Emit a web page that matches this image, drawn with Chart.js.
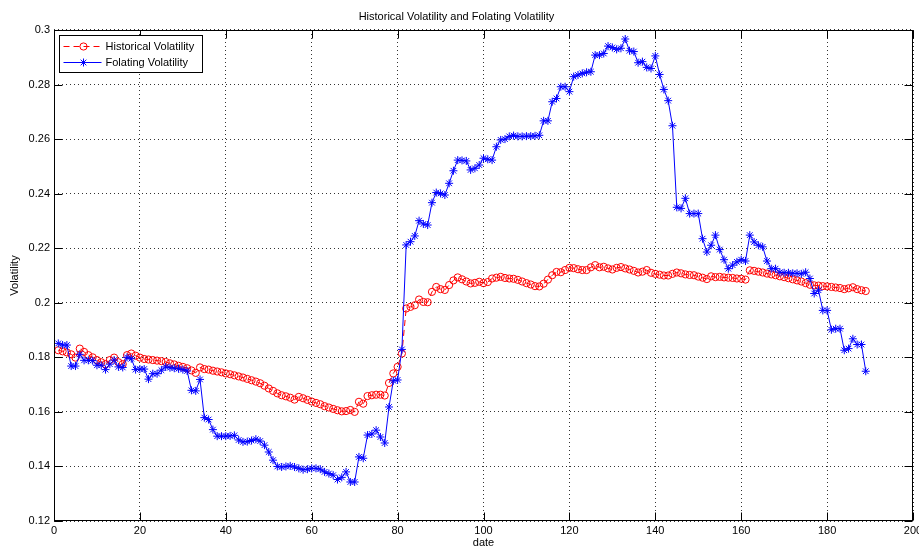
<!DOCTYPE html>
<html>
<head>
<meta charset="utf-8">
<title>Historical Volatility and Folating Volatility</title>
<script src="https://cdn.jsdelivr.net/npm/chart.js@4"></script>
<style>
  html, body { margin: 0; padding: 0; background: #fff; }
  canvas { display: block; }
</style>
</head>
<body>
<canvas id="chart" width="919" height="550"></canvas>
<script>
// values, one per trading day (1..189)
const historical = [
  0.1826, 0.1822, 0.1818, 0.1811, 0.1799, 0.1832, 0.1820, 0.1808, 0.1800, 0.1790,
  0.1782, 0.1775, 0.1790, 0.1799, 0.1782, 0.1775, 0.1808, 0.1814, 0.1806, 0.1799,
  0.1794, 0.1792, 0.1790, 0.1788, 0.1786, 0.1783, 0.1778, 0.1774, 0.1769, 0.1765,
  0.1760, 0.1752, 0.1743, 0.1763, 0.1757, 0.1755, 0.1751, 0.1748, 0.1745, 0.1741,
  0.1738, 0.1734, 0.1730, 0.1726, 0.1721, 0.1716, 0.1711, 0.1705, 0.1696, 0.1686,
  0.1677, 0.1668, 0.1661, 0.1657, 0.1652, 0.1645, 0.1655, 0.1650, 0.1644, 0.1638,
  0.1633, 0.1628, 0.1621, 0.1616, 0.1611, 0.1606, 0.1602, 0.1603, 0.1607, 0.1600,
  0.1637, 0.1630, 0.1658, 0.1661, 0.1663, 0.1663, 0.1660, 0.1706, 0.1741, 0.1765,
  0.1814, 0.1979, 0.1985, 0.1991, 0.2012, 0.2003, 0.2002, 0.2040, 0.2058, 0.2050,
  0.2047, 0.2065, 0.2082, 0.2093, 0.2086, 0.2078, 0.2071, 0.2073, 0.2077, 0.2072,
  0.2076, 0.2089, 0.2092, 0.2095, 0.2091, 0.2089, 0.2088, 0.2084, 0.2078, 0.2072,
  0.2067, 0.2061, 0.2060, 0.2070, 0.2085, 0.2101, 0.2113, 0.2112, 0.2120, 0.2128,
  0.2127, 0.2123, 0.2120, 0.2120, 0.2130, 0.2138, 0.2130, 0.2132, 0.2126, 0.2122,
  0.2128, 0.2131, 0.2126, 0.2122, 0.2117, 0.2111, 0.2114, 0.2120, 0.2110, 0.2106,
  0.2103, 0.2100, 0.2100, 0.2106, 0.2111, 0.2108, 0.2104, 0.2102, 0.2101, 0.2096,
  0.2092, 0.2087, 0.2097, 0.2094, 0.2095, 0.2093, 0.2092, 0.2091, 0.2089, 0.2088,
  0.2085, 0.2119, 0.2117, 0.2114, 0.2111, 0.2107, 0.2104, 0.2101, 0.2097, 0.2094,
  0.2090, 0.2086, 0.2082, 0.2078, 0.2072, 0.2066, 0.2064, 0.2063, 0.2061, 0.2060,
  0.2058, 0.2056, 0.2054, 0.2050, 0.2053, 0.2057, 0.2050, 0.2046, 0.2043
];
const folating = [
  0.1851, 0.1845, 0.1845, 0.1768, 0.1768, 0.1811, 0.1789, 0.1789, 0.1788, 0.1771,
  0.1771, 0.1755, 0.1775, 0.1790, 0.1765, 0.1763, 0.1800, 0.1795, 0.1755, 0.1757,
  0.1757, 0.1720, 0.1740, 0.1740, 0.1753, 0.1765, 0.1762, 0.1760, 0.1758, 0.1755,
  0.1750, 0.1679, 0.1677, 0.1719, 0.1579, 0.1572, 0.1535, 0.1511, 0.1511, 0.1511,
  0.1512, 0.1514, 0.1497, 0.1490, 0.1491, 0.1495, 0.1500, 0.1493, 0.1478, 0.1453,
  0.1423, 0.1400, 0.1398, 0.1400, 0.1402, 0.1398, 0.1393, 0.1388, 0.1390, 0.1393,
  0.1393, 0.1390, 0.1380, 0.1374, 0.1368, 0.1352, 0.1360, 0.1380, 0.1343, 0.1343,
  0.1435, 0.1430, 0.1515, 0.1519, 0.1533, 0.1508, 0.1486, 0.1618, 0.1714, 0.1717,
  0.1829, 0.2212, 0.2224, 0.2245, 0.2301, 0.2289, 0.2285, 0.2367, 0.2404, 0.2401,
  0.2395, 0.2438, 0.2484, 0.2523, 0.2522, 0.2520, 0.2487, 0.2493, 0.2505, 0.2530,
  0.2526, 0.2523, 0.2572, 0.2597, 0.2600, 0.2610, 0.2613, 0.2610, 0.2610, 0.2611,
  0.2611, 0.2612, 0.2614, 0.2667, 0.2667, 0.2737, 0.2749, 0.2792, 0.2792, 0.2774,
  0.2829, 0.2835, 0.2841, 0.2845, 0.2847, 0.2908, 0.2908, 0.2914, 0.2941, 0.2936,
  0.2929, 0.2933, 0.2967, 0.2924, 0.2921, 0.2880, 0.2884, 0.2863, 0.2859, 0.2905,
  0.2837, 0.2782, 0.2741, 0.2649, 0.2350, 0.2346, 0.2383, 0.2327, 0.2327, 0.2327,
  0.2235, 0.2186, 0.2211, 0.2248, 0.2195, 0.2158, 0.2125, 0.2138, 0.2150, 0.2158,
  0.2153, 0.2248, 0.2223, 0.2211, 0.2205, 0.2153, 0.2125, 0.2125, 0.2112, 0.2110,
  0.2110, 0.2108, 0.2108, 0.2106, 0.2112, 0.2089, 0.2034, 0.2046, 0.1972, 0.1972,
  0.1901, 0.1905, 0.1905, 0.1826, 0.1832, 0.1868, 0.1847, 0.1847, 0.1749
];
const dates = historical.map((_, i) => i + 1);

const xTicks = [0, 20, 40, 60, 80, 100, 120, 140, 160, 180, 200];
const yTicks = [0.12, 0.14, 0.16, 0.18, 0.2, 0.22, 0.24, 0.26, 0.28, 0.3];

const FONT = '"Liberation Sans", Arial, sans-serif';

// matlab style box with inward ticks on all four sides
const axesBox = {
  id: 'axesBox',
  afterDraw(chart) {
    const { ctx, chartArea: a, scales: { x, y } } = chart;
    const L = Math.round(a.left) + 0.5, R = Math.round(a.right) - 0.5;
    const T = Math.round(a.top) + 0.5, B = Math.round(a.bottom) - 0.5;
    ctx.save();
    ctx.strokeStyle = '#000';
    ctx.lineWidth = 1;
    ctx.beginPath();
    xTicks.forEach(v => {
      const px = Math.round(x.getPixelForValue(v)) + 0.5;
      ctx.moveTo(px, B); ctx.lineTo(px, B - 8);
      ctx.moveTo(px, T); ctx.lineTo(px, T + 8);
    });
    yTicks.forEach(v => {
      const py = Math.round(y.getPixelForValue(v)) + 0.5;
      ctx.moveTo(L, py); ctx.lineTo(L + 8, py);
      ctx.moveTo(R, py); ctx.lineTo(R - 8, py);
    });
    ctx.stroke();
    ctx.strokeRect(L, T, R - L, B - T);
    ctx.restore();
  }
};

// legend box in the upper left corner of the axes
const boxLegend = {
  id: 'boxLegend',
  afterDraw(chart) {
    const { ctx, chartArea: a } = chart;
    const x0 = Math.round(a.left) + 5.5, y0 = Math.round(a.top) + 5.5;
    const w = 143, h = 37;
    ctx.save();
    ctx.fillStyle = '#fff';
    ctx.fillRect(x0, y0, w, h);
    ctx.strokeStyle = '#000';
    ctx.lineWidth = 1;
    ctx.strokeRect(x0, y0, w, h);
    ctx.font = '11px ' + FONT;
    ctx.textBaseline = 'middle';
    chart.data.datasets.forEach((ds, i) => {
      const cy = Math.round(y0 + 10.5 + i * 16.3) + 0.5;
      ctx.strokeStyle = ds.borderColor;
      ctx.setLineDash(ds.borderDash || []);
      ctx.beginPath();
      ctx.moveTo(x0 + 4, cy);
      ctx.lineTo(x0 + 42, cy);
      ctx.stroke();
      ctx.setLineDash([]);
      ctx.fillStyle = 'rgba(0,0,0,0)';
      Chart.helpers.drawPoint(ctx, {
        pointStyle: ds.pointStyle, radius: ds.pointRadius, borderWidth: 1, rotation: 0
      }, x0 + 24, cy);
      ctx.fillStyle = '#000';
      ctx.fillText(ds.label, x0 + 46, cy);
    });
    ctx.restore();
  }
};

new Chart(document.getElementById('chart'), {
  type: 'line',
  data: {
    datasets: [
      {
        label: 'Historical Volatility',
        data: dates.map((d, i) => ({ x: d, y: historical[i] })),
        borderColor: '#ff0000',
        backgroundColor: 'rgba(0,0,0,0)',
        borderWidth: 1,
        borderDash: [6, 4],
        pointStyle: 'circle',
        pointRadius: 3.6,
        pointBorderWidth: 1,
        pointBorderColor: '#ff0000',
        pointBackgroundColor: 'rgba(0,0,0,0)',
        tension: 0,
        order: 1
      },
      {
        label: 'Folating Volatility',
        data: dates.map((d, i) => ({ x: d, y: folating[i] })),
        borderColor: '#0000ff',
        backgroundColor: 'rgba(0,0,0,0)',
        borderWidth: 1,
        pointStyle: 'star',
        pointRadius: 4,
        pointBorderWidth: 1,
        pointBorderColor: '#0000ff',
        tension: 0,
        order: 0
      }
    ]
  },
  options: {
    responsive: false,
    animation: false,
    events: [],
    layout: { padding: { left: 0, right: 6, top: 0, bottom: 0 } },
    plugins: {
      legend: { display: false },
      tooltip: { enabled: false },
      title: {
        display: true,
        text: 'Historical Volatility and Folating Volatility',
        color: '#000',
        font: { family: FONT, size: 11, weight: 'normal' },
        padding: { top: 10.7, bottom: 6.1 }
      }
    },
    scales: {
      x: {
        type: 'linear',
        min: 0,
        max: 200,
        afterBuildTicks: s => { s.ticks = xTicks.map(v => ({ value: v })); },
        afterFit: s => { s.height = 29; s.paddingLeft = 0; s.paddingRight = 0; },
        ticks: {
          color: '#000',
          padding: 3,
          maxRotation: 0,
          autoSkip: false,
          font: { family: FONT, size: 11 }
        },
        grid: { color: '#333', lineWidth: 1, drawTicks: false },
        border: { display: false, dash: [1, 3] },
        title: {
          display: true,
          text: 'date',
          color: '#000',
          font: { family: FONT, size: 11 },
          padding: { top: 0, bottom: 0 }
        }
      },
      y: {
        min: 0.12,
        max: 0.3,
        afterBuildTicks: s => { s.ticks = yTicks.map(v => ({ value: v })); },
        afterFit: s => { s.width = 54; },
        ticks: {
          color: '#000',
          padding: 4,
          autoSkip: false,
          font: { family: FONT, size: 11 },
          callback: v => String(Number(v.toFixed(2)))
        },
        grid: { color: '#333', lineWidth: 1, drawTicks: false },
        border: { display: false, dash: [1, 3] },
        title: {
          display: true,
          text: 'Volatility',
          color: '#000',
          font: { family: FONT, size: 11 },
          padding: { top: 8.4, bottom: 0 }
        }
      }
    }
  },
  plugins: [axesBox, boxLegend]
});
</script>
</body>
</html>
